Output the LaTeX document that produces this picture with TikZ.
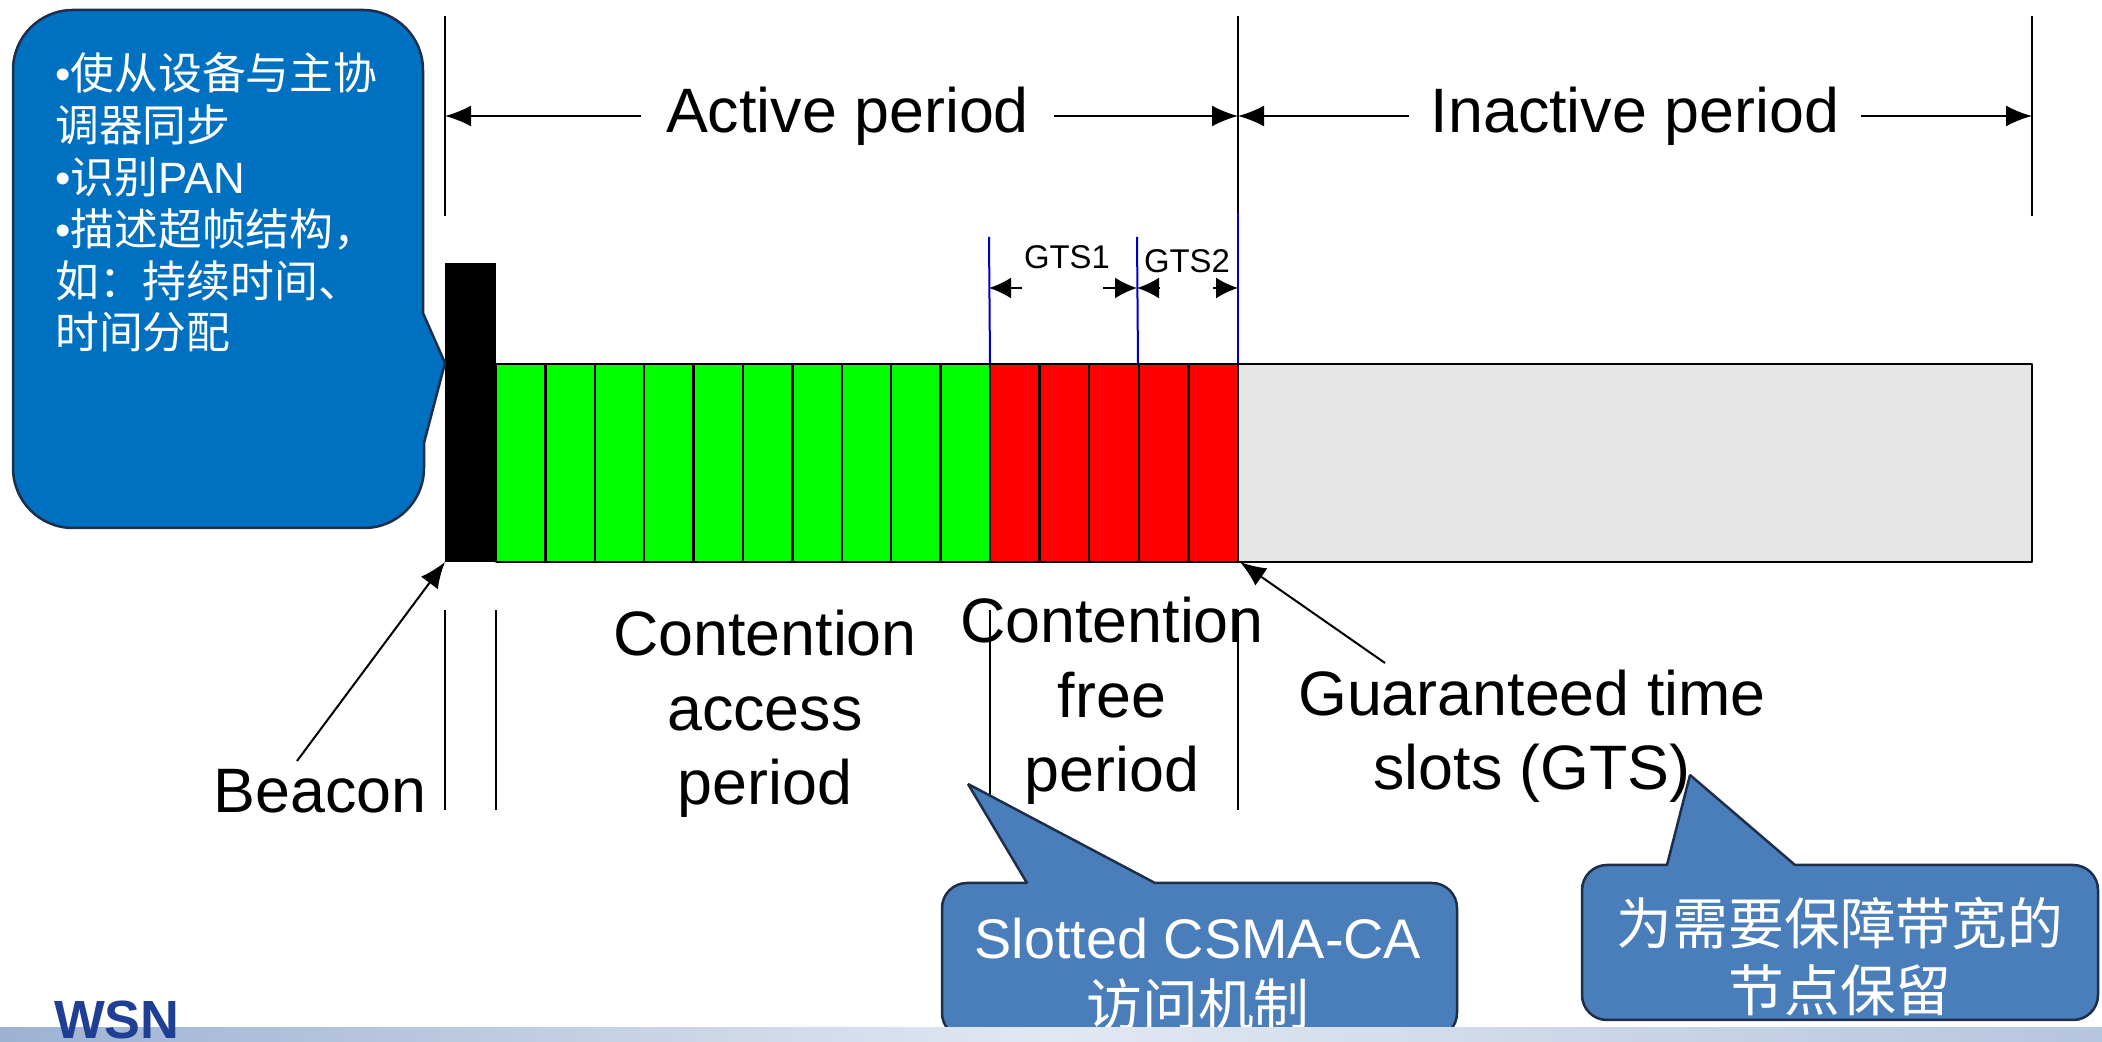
\documentclass[tikz,border=0pt]{standalone}
\usepackage{fontspec}
\setmainfont{Liberation Sans}
\newfontfamily\cjk{Noto Sans CJK SC}
\usetikzlibrary{arrows.meta}
\definecolor{calloutblue}{HTML}{0070C0}
\definecolor{calloutsteel}{HTML}{4A7EBB}
\definecolor{calloutedge}{HTML}{1C2E4A}
\definecolor{slotgray}{HTML}{E6E6E6}
\definecolor{gtsblue}{HTML}{0000CC}
\definecolor{wsnblue}{HTML}{1F3F94}
\definecolor{barleft}{HTML}{9DB2D2}
\definecolor{barmid}{HTML}{E2E8F2}
\definecolor{barright}{HTML}{B5C6DF}

\begin{document}
\begin{tikzpicture}[>={Latex[length=26bp,width=21bp]},line join=bevel,
  big/.style={font=\fontsize{63}{75}\selectfont,align=center,inner sep=0pt},
  small/.style={font=\fontsize{33}{40}\selectfont,inner sep=0pt},
  cell/.style={draw=black,line width=2.5bp},
  tick/.style={black,line width=2bp},
  gtsline/.style={gtsblue,line width=2bp},
  gtsarrow/.style={black,line width=2bp,-{Latex[length=22bp,width=21bp]}},
  callout/.style={draw=calloutedge,line width=2.5bp},
  callouttext/.style={text=white,font=\fontsize{56}{67}\selectfont,align=center,inner sep=0pt},
  ]
\useasboundingbox (0bp,0bp) rectangle (2102bp,1042bp);
%%
\coordinate (t0) at (445bp,1026bp);
  \coordinate (b0) at (445bp,826bp);
  \coordinate (t1) at (1238bp,1026bp);
  \coordinate (b1) at (1238bp,829bp);
  \coordinate (t2) at (2032bp,1026bp);
  \coordinate (b2) at (2032bp,826bp);
  \coordinate (a0) at (445bp,926bp);
  \coordinate (a1) at (1238bp,926bp);
  \coordinate (a2) at (2032bp,926bp);
  \draw [tick] (t0) -- (b0);
  \draw [tick] (t1) -- (b1);
  \draw [tick] (t2) -- (b2);
  \draw [tick,<->] (a0) -- node [big,fill=white,inner xsep=25bp,xshift=6bp] {Active period} (a1);
  \draw [tick,<->] (a1) -- node [big,fill=white,inner xsep=22bp] {Inactive period} (a2);
%
  \coordinate (g0) at (989bp,805bp);
  \coordinate (g0b) at (990bp,678bp);
  \coordinate (g1) at (1137bp,805bp);
  \coordinate (g1b) at (1138bp,678bp);
  \coordinate (g2b) at (1238bp,678bp);
  \draw [gtsline] (g0) -- (g0b);
  \draw [gtsline] (g1) -- (g1b);
  \draw [gtsline] (b1) -- (g2b);
  \coordinate (ga0) at (989bp,754bp);
  \coordinate (ga0s) at (1022bp,754bp);
  \coordinate (ga1s) at (1103bp,754bp);
  \coordinate (ga1) at (1137bp,754bp);
  \coordinate (ga2s) at (1160bp,754bp);
  \coordinate (ga3s) at (1213bp,754bp);
  \coordinate (ga3) at (1238bp,754bp);
  \draw [gtsarrow] (ga0s) -- (ga0);
  \draw [gtsarrow] (ga1s) -- (ga1);
  \draw [gtsarrow] (ga2s) -- (ga1);
  \draw [gtsarrow] (ga3s) -- (ga3);
  \node (gts1) at (1067bp,785bp) [small] {GTS1};
  \node (gts2) at (1187bp,781bp) [small] {GTS2};
%
  \fill [black] (445bp,480bp) rectangle (496bp,779bp);
  \draw [cell,fill=green] (496bp,480bp) rectangle (545.4bp,678bp);
  \draw [cell,fill=green] (545.4bp,480bp) rectangle (594.8bp,678bp);
  \draw [cell,fill=green] (594.8bp,480bp) rectangle (644.2bp,678bp);
  \draw [cell,fill=green] (644.2bp,480bp) rectangle (693.6bp,678bp);
  \draw [cell,fill=green] (693.6bp,480bp) rectangle (743bp,678bp);
  \draw [cell,fill=green] (743bp,480bp) rectangle (792.4bp,678bp);
  \draw [cell,fill=green] (792.4bp,480bp) rectangle (841.8bp,678bp);
  \draw [cell,fill=green] (841.8bp,480bp) rectangle (891.2bp,678bp);
  \draw [cell,fill=green] (891.2bp,480bp) rectangle (940.6bp,678bp);
  \draw [cell,fill=green] (940.6bp,480bp) rectangle (990bp,678bp);
  \draw [cell,fill=red] (990bp,480bp) rectangle (1039.6bp,678bp);
  \draw [cell,fill=red] (1039.6bp,480bp) rectangle (1089.2bp,678bp);
  \draw [cell,fill=red] (1089.2bp,480bp) rectangle (1138.8bp,678bp);
  \draw [cell,fill=red] (1138.8bp,480bp) rectangle (1188.4bp,678bp);
  \draw [cell,fill=red] (1188.4bp,480bp) rectangle (1238bp,678bp);
  \draw [cell,fill=slotgray] (1238bp,480bp) rectangle (2032bp,678bp);
%
  \coordinate (l0t) at (445bp,432bp);
  \coordinate (l0b) at (445bp,232bp);
  \coordinate (l1t) at (496bp,432bp);
  \coordinate (l1b) at (496bp,232bp);
  \coordinate (l2t) at (990bp,432bp);
  \coordinate (l2b) at (990bp,232bp);
  \coordinate (l3t) at (1238bp,432bp);
  \coordinate (l3b) at (1238bp,232bp);
  \draw [tick] (l0t) -- (l0b);
  \draw [tick] (l1t) -- (l1b);
  \draw [tick] (l2t) -- (l2b);
  \draw [tick] (l3t) -- (l3b);
  \node (beacon) at (320bp,229bp) [big,anchor=base] {Beacon};
  \node (cap) at (765bp,237bp) [big,anchor=base] {Contention\\access\\period};
  \node (cfp) at (1112bp,250bp) [big,anchor=base] {Contention\\free\\period};
  \node (gts) at (1532bp,252bp) [big,anchor=base] {Guaranteed time\\slots (GTS)};
  \coordinate (beacontail) at (297bp,281bp);
  \coordinate (beacontip) at (445bp,480bp);
  \coordinate (gtstail) at (1385bp,379bp);
  \coordinate (gtstip) at (1240bp,480bp);
  \draw [tick,->] (beacontail) -- (beacontip);
  \draw [tick,->] (gtstail) -- (gtstip);
%
  \draw [callout,fill=calloutblue] (200bp,514bp) [rounded corners=60bp] -- (13bp,514bp) -- (13bp,1032bp) -- (423bp,1032bp) -- (423bp,900bp) [sharp corners] -- (423bp,729bp) -- (445bp,679bp) -- (424bp,599bp) -- (424bp,580bp) [rounded corners=60bp] -- (424bp,514bp) -- cycle;
  \node (sync) at (55bp,693bp) [anchor=base west,align=left,text=white,inner sep=0pt,font=\fontsize{44}{52}\selectfont] {•{\cjk 使从设备与主协}\\{\cjk 调器同步}\\•{\cjk 识别}PAN\\•{\cjk 描述超帧结构，}\\{\cjk 如：持续时间、}\\{\cjk 时间分配}};
  \draw [callout,fill=calloutsteel] (1200bp,4bp) [rounded corners=25bp] -- (942bp,4bp) -- (942bp,159bp) -- (1000bp,159bp) [sharp corners] -- (1027bp,159bp) -- (968bp,258bp) -- (1155bp,159bp) -- (1180bp,159bp) [rounded corners=25bp] -- (1457bp,159bp) -- (1457bp,4bp) -- cycle;
  \node (csma) at (1198bp,17bp) [callouttext,anchor=base] {Slotted CSMA-CA\\{\cjk 访问机制}};
  \draw [callout,fill=calloutsteel] (1840bp,22bp) [rounded corners=25bp] -- (1582bp,22bp) -- (1582bp,177bp) -- (1640bp,177bp) [sharp corners] -- (1667bp,177bp) -- (1690bp,267bp) -- (1795bp,177bp) -- (1820bp,177bp) [rounded corners=25bp] -- (2098bp,177bp) -- (2098bp,22bp) -- cycle;
  \node (reserve) at (1840bp,31bp) [callouttext,anchor=base] {{\cjk 为需要保障带宽的}\\{\cjk 节点保留}};
%
  \shade [left color=barleft,right color=barright,middle color=barmid] (0bp,0bp) rectangle (2102bp,14bp);
  \node (wsn) at (54bp,4bp) [anchor=base west,inner sep=0pt,text=wsnblue,font=\fontsize{54}{60}\selectfont\bfseries] {WSN};
%
\end{tikzpicture}
\end{document}
